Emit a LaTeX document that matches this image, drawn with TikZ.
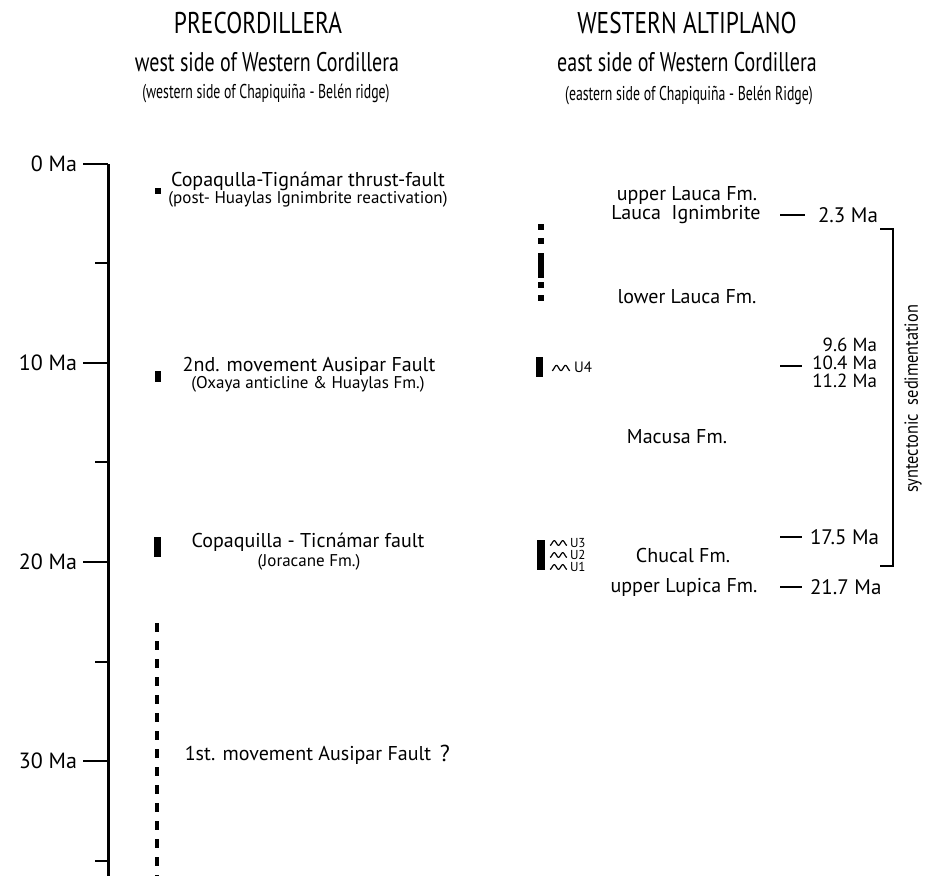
\documentclass[tikz,border=0pt]{standalone}
\usepackage{fontspec}
\setmainfont{PT Sans}
\newfontfamily\hfontA[FakeStretch=0.78]{PT Sans}
\newfontfamily\hfontB[FakeStretch=0.74]{PT Sans}
\newfontfamily\hfontC[FakeStretch=0.69]{PT Sans}
\newfontfamily\synfont[FakeStretch=0.86]{PT Sans}
\begin{document}
\begin{tikzpicture}[x=1pt,y=-1pt,
  every node/.style={inner sep=0pt, outer sep=0pt},
  hA/.style={font=\hfontA\fontsize{30}{30}\selectfont},
  hB/.style={font=\hfontB\fontsize{27}{27}\selectfont},
  hC/.style={font=\hfontC\fontsize{20}{20}\selectfont},
  axlbl/.style={anchor=east, font=\fontsize{22}{22}\selectfont},
  evt/.style={font=\fontsize{20}{20}\selectfont},
  evtsub/.style={font=\fontsize{17}{17}\selectfont},
  fm/.style={font=\fontsize{20}{20}\selectfont},
  age/.style={font=\fontsize{21}{21}\selectfont},
  agestack/.style={anchor=east, font=\fontsize{19}{19}\selectfont},
  ulbl/.style={anchor=west, font=\fontsize{13}{13}\selectfont},
  axisline/.style={line width=3pt},
  tickline/.style={line width=2.6pt},
  agedash/.style={line width=1.8pt},
  blk/.style={fill=black},
  wave/.style={line width=1.2pt},
]
\useasboundingbox (0,0) rectangle (930,876);
\fill[white] (0,0) rectangle (930,876);

% headers
\node[hA] (hL1) at (258,23) {PRECORDILLERA};
\node[hB] (hL2) at (267,62) {west side of Western Cordillera};
\node[hC] (hL3) at (266,93) {(western side of Chapiquiña - Belén ridge)};
\node[hA] (hR1) at (687,23) {WESTERN ALTIPLANO};
\node[hB] (hR2) at (687,62) {east side of Western Cordillera};
\node[hC] (hR3) at (689,95) {(eastern side of Chapiquiña - Belén Ridge)};

% time axis
\coordinate (ax0) at (108,164);
\coordinate (axE) at (108,876);
\draw[axisline] (ax0) -- (axE);
\foreach \m/\y in {0/164,10/363,20/562,30/761}{
  \draw[tickline] (83,\y) -- (108,\y);
  \node[axlbl] (lab\m) at (77,\y) {\m\ Ma};
}
\foreach \y in {263,462,662,861}{
  \draw[tickline] (95,\y) -- (108,\y);
}

% left column events
\fill[blk] (155,188) rectangle (161,194);
\node[evt] (e1) at (308,181) {Copaqulla-Tignámar thrust-fault};
\node[evtsub] (e1b) at (308,199) {(post- Huaylas Ignimbrite reactivation)};

\fill[blk] (155,371) rectangle (161,382);
\node[evt] (e2) at (309,366) {2nd. movement Ausipar Fault};
\node[evtsub] (e2b) at (308,384) {(Oxaya anticline \& Huaylas Fm.)};

\fill[blk] (154,537) rectangle (161,557);
\node[evt] (e3) at (308,542) {Copaquilla - Ticnámar fault};
\node[evtsub] (e3b) at (309,562) {(Joracane Fm.)};

\coordinate (d0) at (157,623);
\coordinate (d1) at (157,876);
\draw[line width=4pt, dash pattern=on 9pt off 9pt] (d0) -- (d1);
\node[evt] (e4) at (308,755) {1st. movement Ausipar Fault};
\node[font=\fontsize{23}{23}\selectfont] (q) at (445,753) {?};

% middle column: dotted bar and unconformities
\fill[blk] (538,224) rectangle (544,230);
\fill[blk] (538,238) rectangle (544,244);
\fill[blk] (538,253) rectangle (544,278);
\fill[blk] (538,282) rectangle (544,288);
\fill[blk] (538,295) rectangle (544,301);

\fill[blk] (536,357) rectangle (543,377);
\draw[wave] plot[domain=0:1, samples=30] ({552+18*\x},{368+2.6*cos(720*\x)});
\node[ulbl, font=\fontsize{15}{15}\selectfont] (u4) at (574,367) {U4};

\fill[blk] (537,540) rectangle (545,570);
\foreach \y/\u in {543/U3,555/U2,567/U1}{
  \draw[wave] plot[domain=0:1, samples=30] ({550+17*\x},{\y+2.3*cos(720*\x)});
  \node[ulbl] (\u) at (570,\y) {\u};
}

% right column formations
\node[fm] (f1) at (687,195) {upper Lauca Fm.};
\node[fm] (f2) at (686,215) {Lauca\ \ Ignimbrite};
\node[fm] (f3) at (687,297) {lower Lauca Fm.};
\node[fm] (f4) at (677,437) {Macusa Fm.};
\node[fm] (f5) at (683,555) {Chucal Fm.};
\node[fm] (f6) at (684,587) {upper Lupica Fm.};

% ages
\draw[agedash] (780,215) -- (805,215);
\node[age, anchor=west] (a1) at (818,215) {2.3 Ma};
\node[agestack] (a2) at (877,345) {9.6 Ma};
\node[agestack] (a3) at (877,363) {10.4 Ma};
\node[agestack] (a4) at (877,381) {11.2 Ma};
\draw[agedash] (780,366) -- (802,366);
\draw[agedash] (780,537) -- (802,537);
\node[age, anchor=west] (a5) at (810,537) {17.5 Ma};
\draw[agedash] (780,587) -- (802,587);
\node[age, anchor=west] (a6) at (810,587) {21.7 Ma};

% bracket
\coordinate (b0) at (880,229);
\coordinate (b1) at (893,229);
\coordinate (b2) at (893,566);
\coordinate (b3) at (880,566);
\draw[line width=1.2pt] (b0) -- (b1) -- (b2) -- (b3);
\node[font=\synfont\fontsize{19}{19}\selectfont, rotate=90] (syn) at (913,399) {syntectonic\ \ sedimentation};
\end{tikzpicture}
\end{document}
